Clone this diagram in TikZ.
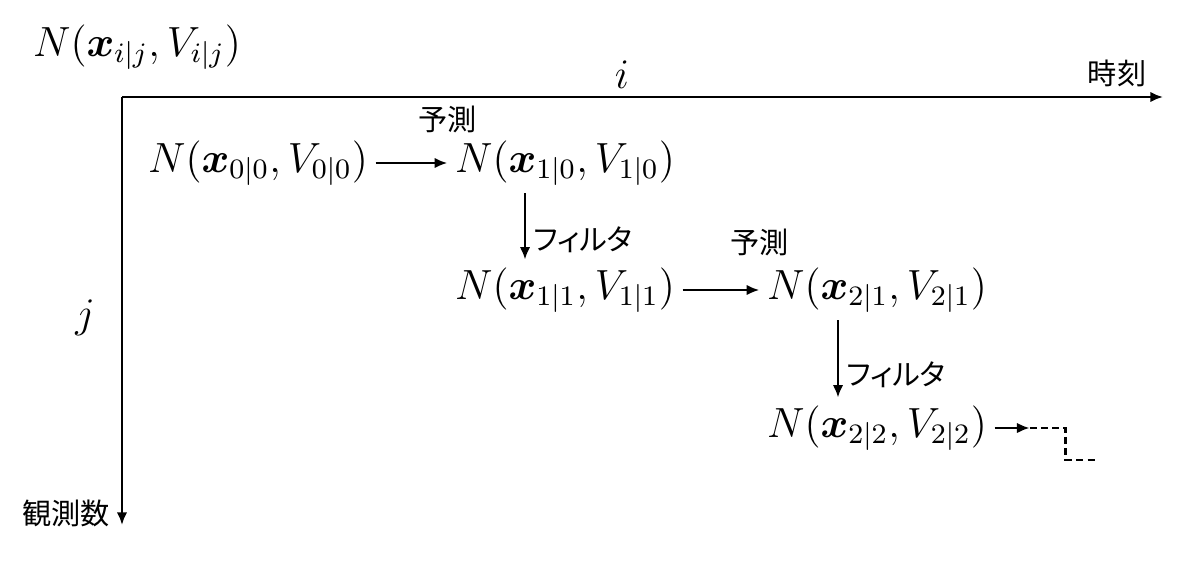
\documentclass[tikz,border=0pt]{standalone}
\usepackage{amsmath, amssymb}
\usepackage{fontspec}
\usepackage{tikz}
\usetikzlibrary{arrows.meta, positioning, calc}
\newfontfamily\jpfont[RawFeature=+palt]{Noto Sans CJK JP}

\begin{document}
\begin{tikzpicture}[
    node distance=1.27cm and 3.07cm, on grid,
    gauss/.style={font=\fontsize{12}{14}\selectfont, inner sep=2pt},
    lbl/.style={font=\jpfont\fontsize{8.3}{10}\selectfont, inner sep=2pt},
    arrow/.style={-{Latex[length=3.6pt, width=3pt]}, line width=0.7pt},
    axis/.style={-{Latex[length=3.6pt, width=3pt]}, line width=0.8pt},
    dashline/.style={dashed, dash pattern=on 2pt off 1.2pt, line width=0.7pt},
]
\useasboundingbox (0,0) rectangle (12,5.62);
% axes
\coordinate (origin) at (1.22,4.65);
\coordinate (tend) at (11.63,4.65);
\coordinate (oend) at (1.22,0.37);
\draw[axis] (origin) -- (tend);
\draw[axis] (origin) -- (oend);
\node[gauss] (title) at (1.37,5.15) {$N(\boldsymbol{x}_{i|j}, V_{i|j})$};
\node[gauss] (ilab) at (6.22,4.87) {$i$};
\node[lbl] (time) at (11.17,4.89) {時刻};
\node[gauss] (jlab) at (0.85,2.44) {$j$};
\node[lbl] (obs) at (0.66,0.49) {観測数};
% distributions
\node[gauss] (n00) at (2.58,3.99) {$N(\boldsymbol{x}_{0|0}, V_{0|0})$};
\node[gauss, right=of n00] (n10) {$N(\boldsymbol{x}_{1|0}, V_{1|0})$};
\node[gauss, below=of n10] (n11) {$N(\boldsymbol{x}_{1|1}, V_{1|1})$};
\node[gauss, right=3.12cm of n11] (n21) {$N(\boldsymbol{x}_{2|1}, V_{2|1})$};
\node[gauss, below=1.38cm of n21] (n22) {$N(\boldsymbol{x}_{2|2}, V_{2|2})$};
% prediction / filtering
\draw[arrow] (n00) -- node[lbl, pos=1, above=0.22cm] {予測} (n10);
\draw[arrow] ([xshift=-0.4cm]n10.south) -- node[lbl, pos=0.7, right] {フィルタ} ([xshift=-0.4cm]n11.north);
\draw[arrow] (n11) -- node[lbl, pos=1, above=0.26cm] {予測} (n21);
\draw[arrow] ([xshift=-0.39cm]n21.south) -- node[lbl, pos=0.7, right] {フィルタ} ([xshift=-0.39cm]n22.north);
% continuation
\coordinate (cont) at ($(n22.east)+(0.35,0)$);
\draw[arrow] (n22) -- (cont);
\draw[dashline] (cont) -- ++(0.36,0) -- ++(0,-0.32) -- ++(0.32,0);
\end{tikzpicture}
\end{document}
